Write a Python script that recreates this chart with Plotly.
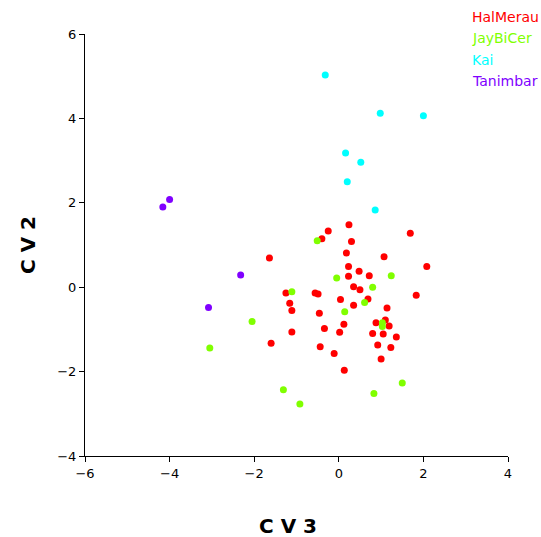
import plotly.graph_objects as go

# Canonical variate scores (CV3 on x, CV2 on y) per group
groups = ["HalMerau", "JayBiCer", "Kai", "Tanimbar"]
colors = ["#FF0000", "#80FF00", "#00FFFF", "#8000FF"]

halmerau_cv3 = [0.24, -0.25, -0.40, 1.69, 0.30, 0.18, 1.07, 2.08, 0.23, 0.48,
                0.23, 0.72, 0.35, 0.50, 1.83, -1.25, -0.56, -0.49, -1.16, -1.11,
                0.04, 0.69, 0.35, 1.14, -0.46, 1.10, 0.88, 1.19, 0.12, -1.11,
                -0.34, 0.02, 0.80, 1.05, 1.36, 0.92, -0.44, 1.23, -0.11, 1.00,
                0.13, -1.64, -1.60]
halmerau_cv2 = [1.48, 1.33, 1.15, 1.28, 1.08, 0.81, 0.72, 0.49, 0.49, 0.38,
                0.26, 0.27, 0.01, -0.06, -0.19, -0.14, -0.14, -0.16, -0.38, -0.55,
                -0.29, -0.28, -0.43, -0.49, -0.62, -0.78, -0.84, -0.92, -0.88, -1.06,
                -0.98, -1.07, -1.10, -1.11, -1.18, -1.37, -1.41, -1.43, -1.57, -1.70,
                -1.97, 0.69, -1.33]

jaybicer_cv3 = [-0.51, -0.05, 1.24, 0.80, -1.11, 0.61, 0.14, 1.03, 1.03, 1.50,
                0.83, -0.92, -1.31, -2.05, -3.05]
jaybicer_cv2 = [1.10, 0.22, 0.27, 0.00, -0.11, -0.36, -0.58, -0.84, -0.93, -2.27,
                -2.52, -2.77, -2.43, -0.81, -1.44]

kai_cv3 = [-0.32, 0.98, 2.00, 0.16, 0.52, 0.20, 0.86]
kai_cv2 = [5.03, 4.12, 4.06, 3.18, 2.96, 2.50, 1.83]

tanimbar_cv3 = [-4.00, -4.16, -2.32, -3.08]
tanimbar_cv2 = [2.08, 1.90, 0.29, -0.48]

xs = [halmerau_cv3, jaybicer_cv3, kai_cv3, tanimbar_cv3]
ys = [halmerau_cv2, jaybicer_cv2, kai_cv2, tanimbar_cv2]

x_ticks = [-6, -4, -2, 0, 2, 4]
y_ticks = [-4, -2, 0, 2, 4, 6]

fig = go.Figure()
for name, color, x, y in zip(groups, colors, xs, ys):
    fig.add_trace(go.Scatter(
        x=x, y=y, mode="markers", name=name,
        marker=dict(color=color, size=7, line=dict(width=0)),
        showlegend=False,
    ))

# Text-only key in the top-right corner, coloured by group
for i, (name, color) in enumerate(zip(groups, colors)):
    fig.add_annotation(
        text=name, xref="paper", yref="paper",
        x=(470 - 85) / 422.7, y=(455.7 - 17 - 21.5 * i) / 421.4,
        xanchor="left", yanchor="middle", showarrow=False,
        font=dict(family="DejaVu Sans", size=14, color=color),
    )

axis_common = dict(
    showgrid=False, zeroline=False, showline=True, linecolor="black",
    linewidth=1, ticks="outside", ticklen=5, tickcolor="black",
    tickfont=dict(family="DejaVu Sans", size=13, color="black"),
    mirror=False,
)

fig.update_layout(
    width=541, height=537,
    margin=dict(l=85, r=33.3, t=34.3, b=81.3),
    plot_bgcolor="white", paper_bgcolor="white",
    xaxis=dict(range=[-6, 4], tickvals=x_ticks, **axis_common),
    yaxis=dict(range=[-4, 6], tickvals=y_ticks, **axis_common),
)

fig.add_annotation(
    text="<b>C V 3</b>", xref="paper", yref="paper",
    x=(288 - 85) / 422.7, y=-(526 - 455.7) / 421.4,
    xanchor="center", yanchor="middle", showarrow=False,
    font=dict(family="DejaVu Sans", size=20, color="black"),
)
fig.add_annotation(
    text="<b>C V 2</b>", xref="paper", yref="paper",
    x=-(85 - 28) / 422.7, y=(455.7 - 245) / 421.4,
    xanchor="center", yanchor="middle", showarrow=False, textangle=-90,
    font=dict(family="DejaVu Sans", size=20, color="black"),
)

fig.write_html("out.html")
